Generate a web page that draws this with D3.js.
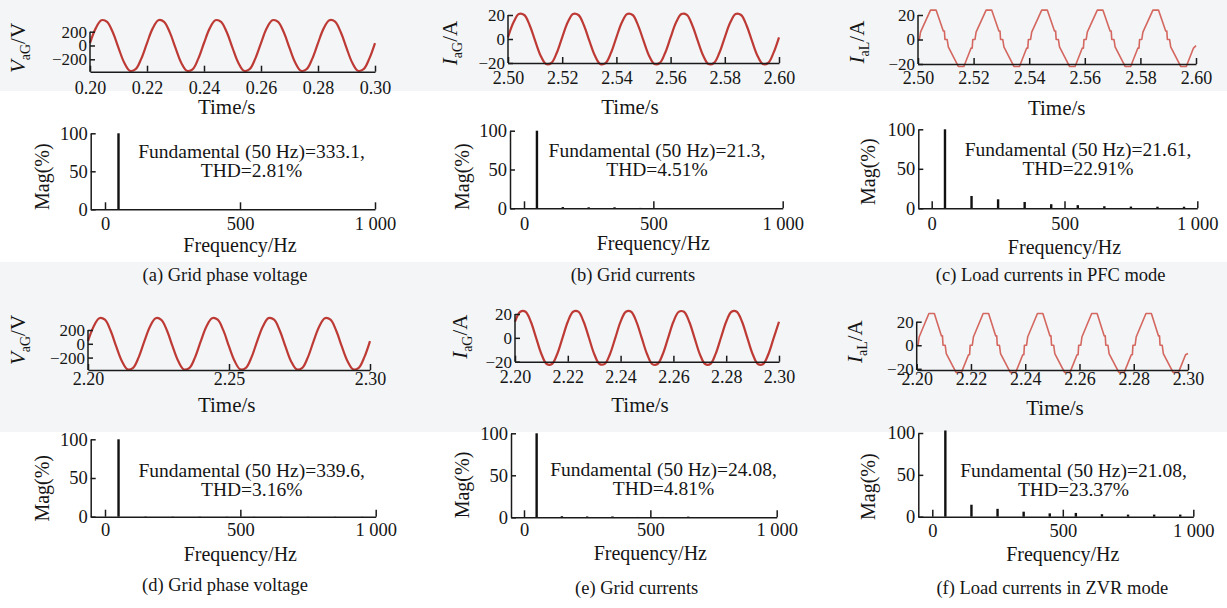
<!DOCTYPE html>
<html>
<head>
<meta charset="utf-8">
<script src="https://cdn.jsdelivr.net/npm/d3@7/dist/d3.min.js"></script>
<style>
  body { margin: 0; background: #fff; }
  svg text { fill: #151515; }
</style>
</head>
<body>
<div id="chart"></div>
<script>
// ---------------- data ----------------
var captions = ["(a) Grid phase voltage", "(b) Grid currents", "(c) Load currents in PFC mode",
                "(d) Grid phase voltage", "(e) Grid currents", "(f) Load currents in ZVR mode"];

// time window of each waveform (s)
var timeStarts = [0.20, 2.50, 2.50, 2.20, 2.20, 2.20];
var timeEnds   = [0.30, 2.60, 2.60, 2.30, 2.30, 2.30];

// axis tick labels
var timeTicksA  = [0.20, 0.22, 0.24, 0.26, 0.28, 0.30];
var timeTicksBC = [2.50, 2.52, 2.54, 2.56, 2.58, 2.60];
var timeTicksD  = [2.20, 2.25, 2.30];
var timeTicksEF = [2.20, 2.22, 2.24, 2.26, 2.28, 2.30];
var voltTicks = [-200, 0, 200];
var ampTicks  = [-20, 0, 20];
var freqTicks = [0, 500, 1000];
var magTicks  = [0, 50, 100];

// y-axis names: symbol, subscript, unit
var waveNames = [["V", "aG", "V"], ["I", "aG", "A"], ["I", "aL", "A"],
                 ["V", "aG", "V"], ["I", "aG", "A"], ["I", "aL", "A"]];

// grid waveforms, one sample every 2 ms from the window start
var gridVoltageA = [
   35, 248, 366, 344, 191,  -35, -248, -366, -344, -191,
   35, 248, 367, 343, 190,  -35, -249, -366, -345, -191,
   36, 248, 366, 344, 191,  -35, -248, -367, -344, -190,
   35, 249, 366, 344, 191,  -36, -248, -366, -344, -191,
   35, 248, 366, 345, 191,  -35, -248, -366, -343, -191,
   35
];
var gridCurrentB = [
   1.4, 13.7, 20.8, 20.0, 11.5, -1.4, -13.7, -20.8, -20.0, -11.5,
   1.4, 13.7, 20.9, 20.0, 11.5, -1.4, -13.6, -20.8, -20.1, -11.5,
   1.4, 13.8, 20.8, 20.0, 11.4, -1.4, -13.7, -20.8, -20.0, -11.5,
   1.3, 13.7, 20.8, 20.1, 11.5, -1.4, -13.7, -20.9, -20.0, -11.5,
   1.4, 13.7, 20.8, 20.0, 11.5, -1.4, -13.7, -20.8, -20.0, -11.4,
   1.4
];
var gridVoltageD = [
   39, 251, 371, 349, 193,  -39, -251, -371, -349, -193,
   39, 252, 371, 348, 193,  -39, -251, -372, -349, -193,
   38, 251, 371, 349, 194,  -39, -251, -371, -348, -193,
   39, 251, 372, 349, 193,  -38, -252, -371, -349, -193,
   39, 251, 371, 349, 193,  -39, -251, -371, -349, -194,
   39
];
var gridCurrentE = [
   13.5, 21.9, 21.9, 13.5, 0.0, -13.5, -21.9, -21.9, -13.5, 0.0,
   13.5, 21.9, 22.0, 13.5, 0.1, -13.5, -21.9, -21.8, -13.5, 0.0,
   13.6, 21.9, 21.9, 13.4, 0.0, -13.5, -22.0, -21.9, -13.5, 0.0,
   13.5, 21.8, 21.9, 13.5, 0.0, -13.6, -21.9, -21.9, -13.4, 0.1,
   13.5, 21.9, 21.9, 13.5, 0.0, -13.5, -21.9, -21.9, -13.5, 0.0,
   13.5
];

// load currents: corner points [ms from window start, A]
var loadCurrentC = [
  [0, 0], [0.5, 0], [0.9, 6], [4.5, 24], [6.5, 24], [9.1, 7], [9.5, 7], [9.7, 0],
  [10.5, 0], [10.9, -6], [14.5, -22], [16.5, -22], [19.1, -7], [19.5, -7], [19.7, 0],
  [20.5, 0], [20.9, 6], [24.5, 24], [26.5, 24], [29.1, 7], [29.5, 7], [29.7, 0],
  [30.5, 0], [30.9, -6], [34.5, -22], [36.5, -22], [39.1, -7], [39.5, -7], [39.7, 0],
  [40.5, 0], [40.9, 6], [44.5, 24], [46.5, 24], [49.1, 7], [49.5, 7], [49.7, 0],
  [50.5, 0], [50.9, -6], [54.5, -22], [56.5, -22], [59.1, -7], [59.5, -7], [59.7, 0],
  [60.5, 0], [60.9, 6], [64.5, 24], [66.5, 24], [69.1, 7], [69.5, 7], [69.7, 0],
  [70.5, 0], [70.9, -6], [74.5, -22], [76.5, -22], [79.1, -7], [79.5, -7], [79.7, 0],
  [80.5, 0], [80.9, 6], [84.5, 24], [86.5, 24], [89.1, 7], [89.5, 7], [89.7, 0],
  [90.5, 0], [90.9, -6], [94.5, -22], [96.5, -22], [99.1, -7], [100, -5]
];
var loadCurrentF = [
  [0, 0], [0.5, 0], [0.9, 7], [4.5, 27], [6.5, 27], [9.1, 8], [9.5, 8], [9.7, 0],
  [10.5, 0], [10.9, -7], [14.5, -23], [16.5, -23], [19.1, -8], [19.5, -8], [19.7, 0],
  [20.5, 0], [20.9, 7], [24.5, 27], [26.5, 27], [29.1, 8], [29.5, 8], [29.7, 0],
  [30.5, 0], [30.9, -7], [34.5, -23], [36.5, -23], [39.1, -8], [39.5, -8], [39.7, 0],
  [40.5, 0], [40.9, 7], [44.5, 27], [46.5, 27], [49.1, 8], [49.5, 8], [49.7, 0],
  [50.5, 0], [50.9, -7], [54.5, -23], [56.5, -23], [59.1, -8], [59.5, -8], [59.7, 0],
  [60.5, 0], [60.9, 7], [64.5, 27], [66.5, 27], [69.1, 8], [69.5, 8], [69.7, 0],
  [70.5, 0], [70.9, -7], [74.5, -23], [76.5, -23], [79.1, -8], [79.5, -8], [79.7, 0],
  [80.5, 0], [80.9, 7], [84.5, 27], [86.5, 27], [89.1, 8], [89.5, 8], [89.7, 0],
  [90.5, 0], [90.9, -7], [94.5, -23], [96.5, -23], [99.1, -8], [100, -7]
];

// FFT spectra: harmonic frequency (Hz) and magnitude (% of fundamental)
var harmonicHz = [50, 150, 250, 350, 450, 550, 650, 750, 850, 950];
var magA = [100, 0.4, 0.3, 0.3, 0.2, 0.2, 0.2, 0.2, 0.2, 0.2];
var magB = [100, 1.6, 1.3, 1.3, 0.5, 0.4, 0.3, 0.3, 0.3, 0.3];
var magC = [100, 15.6, 11.4, 8.0, 5.2, 4.0, 2.6, 2.2, 2.0, 2.0];
var magD = [100, 0.4, 0.3, 0.3, 0.2, 0.2, 0.2, 0.2, 0.2, 0.2];
var magE = [100, 1.3, 1.0, 1.0, 0.4, 0.4, 0.8, 0.3, 0.3, 0.3];
var magF = [103, 14.3, 9.4, 6.0, 4.0, 4.5, 3.0, 2.5, 2.5, 2.5];

var fundamentals = ["333.1", "21.3", "21.61", "339.6", "24.08", "21.08"];
var thds = ["2.81%", "4.51%", "22.91%", "3.16%", "4.81%", "23.37%"];

// ---------------- layout ----------------
var serif = "'Liberation Serif', 'Times New Roman', serif";

var waveLayout = [
  {x0: 90,    x1: 375,  yb: 71.7,  yt: 31.7,  yMin: -380, yTop: 200, pad: 9.8, titleX: 226.7, titleY: 106.7, labX: 18,    labY: 48},
  {x0: 508,   x1: 779,  yb: 63,    yt: 15,    yMin: -20,  yTop: 20,  pad: 8.5, titleX: 630,   titleY: 106.7, labX: 450,   labY: 43},
  {x0: 918,   x1: 1196, yb: 64,    yt: 15,    yMin: -20,  yTop: 20,  pad: 7.5, titleX: 1056.7, titleY: 108.3, labX: 856.7, labY: 42},
  {x0: 88,    x1: 370,  yb: 370,   yt: 330,   yMin: -380, yTop: 200, pad: 2.5, titleX: 226.7, titleY: 405,   labX: 18,    labY: 340},
  {x0: 515,   x1: 779,  yb: 361.7, yt: 314,   yMin: -20,  yTop: 20,  pad: 8.8, titleX: 640,   titleY: 405,   labX: 460,   labY: 336.7},
  {x0: 916.7, x1: 1188, yb: 370,   yt: 321.7, yMin: -21,  yTop: 20,  pad: 2.5, titleX: 1055,  titleY: 408.3, labX: 855,   labY: 341.7}
];

var specLayout = [
  {x0: 90.7,  xz: 105,   x1: 375,    yb: 209.3, yt: 133.3, cx: 251.5,  ty1: 151.5, ty2: 170.5, tlY: 223.3, fY: 245,   magX: 41.7,  magY: 176.7, capX: 225,    capY: 275},
  {x0: 510,   xz: 524,   x1: 782.7,  yb: 208.3, yt: 130.7, cx: 657,    ty1: 150,   ty2: 169.5, tlY: 223.3, fY: 243.3, magX: 461.7, magY: 176.7, capX: 633,    capY: 275},
  {x0: 918.3, xz: 931.7, x1: 1197.3, yb: 208.3, yt: 129.3, cx: 1078,   ty1: 149.5, ty2: 168.5, tlY: 223.3, fY: 246.7, magX: 868.3, magY: 171.7, capX: 1050.7, capY: 275},
  {x0: 90.7,  xz: 105,   x1: 375.7,  yb: 516.7, yt: 439.3, cx: 251.7,  ty1: 470.5, ty2: 489.5, tlY: 530,   fY: 554,   magX: 41.7,  magY: 488.3, capX: 225,    capY: 585},
  {x0: 511,   xz: 524,   x1: 776.7,  yb: 517.3, yt: 433.3, cx: 663.5,  ty1: 469,   ty2: 488,   tlY: 530,   fY: 553.3, magX: 461.7, magY: 485,   capX: 636.7,  capY: 588},
  {x0: 918.3, xz: 932.3, x1: 1193.3, yb: 516.7, yt: 433,   cx: 1073.5, ty1: 470.5, ty2: 489.5, tlY: 530.7, fY: 554,   magX: 868.3, magY: 486.7, capX: 1052.3, capY: 588}
];

var waveColor = ["#bd3a35", "#bd3a35", "#d4675f", "#bd3a35", "#bd3a35", "#d4675f"];
var waveWidth = [2.2, 2.2, 1.6, 2.2, 2.2, 1.6];

// ---------------- drawing ----------------
var svg = d3.select("#chart").append("svg")
    .attr("width", 1227)
    .attr("height", 608);

// faint scan tint behind the waveform rows
svg.append("rect").attr("x", 0).attr("y", 0).attr("width", 1227).attr("height", 91).attr("fill", "#f3f5f7");
svg.append("rect").attr("x", 0).attr("y", 262).attr("width", 1227).attr("height", 170).attr("fill", "#f3f5f7");

function minusFmt(d) { return d < 0 ? "\u2212" + Math.abs(d) : String(d); }
function freqFmt(d) { return d >= 1000 ? "1\u00a0000" : String(d); }

function styleAxis(g, size) {
    g.attr("font-family", serif).attr("font-size", size);
    g.selectAll("path, line").attr("stroke", "#1a1a1a").attr("stroke-width", 1.5);
    g.selectAll("text").attr("fill", "#151515");
}

function centredText(x, y, size, str) {
    return svg.append("text")
        .attr("x", x).attr("y", y + size * 0.34)
        .attr("text-anchor", "middle")
        .attr("font-family", serif)
        .attr("font-size", size)
        .text(str);
}

function drawWave(i, points, xTicks, yTicks) {
    var L = waveLayout[i];
    var xs = d3.scaleLinear().domain([timeStarts[i], timeEnds[i]]).range([L.x0, L.x1]);
    var ys = d3.scaleLinear().domain([L.yMin, L.yTop]).range([L.yb, L.yt]);

    var line = d3.line()
        .x(d => xs(d[0]))
        .y(d => ys(d[1]));
    if (points.curved) line.curve(d3.curveCatmullRom);

    svg.append("path")
        .datum(points.data)
        .attr("d", line)
        .attr("fill", "none")
        .attr("stroke", waveColor[i])
        .attr("stroke-width", waveWidth[i])
        .attr("stroke-linejoin", "round");

    var gx = svg.append("g")
        .attr("transform", `translate(0,${L.yb})`)
        .call(d3.axisBottom(xs).tickValues(xTicks).tickFormat(d3.format(".2f"))
              .tickSizeInner(-6).tickSizeOuter(0).tickPadding(L.pad));
    styleAxis(gx, 18);

    var gy = svg.append("g")
        .attr("transform", `translate(${L.x0},0)`)
        .call(d3.axisLeft(ys).tickValues(yTicks).tickFormat(minusFmt)
              .tickSizeInner(-5).tickSizeOuter(0).tickPadding(3));
    gy.select(".domain").attr("d", `M0,${L.yb}V${L.yt}`);
    styleAxis(gy, 17);

    centredText(L.titleX, L.titleY, 21, "Time/s");

    var name = waveNames[i];
    var lab = svg.append("text")
        .attr("transform", `translate(${L.labX + 7},${L.labY}) rotate(-90)`)
        .attr("text-anchor", "middle")
        .attr("font-family", serif)
        .attr("font-size", 21);
    lab.append("tspan").attr("font-style", "italic").text(name[0]);
    lab.append("tspan").attr("font-size", 14).attr("dy", 5).text(name[1]);
    lab.append("tspan").attr("dy", -5).text("/" + name[2]);
}

function sampled(values) {
    return {curved: true, data: values.map((v, j) => [j * 0.002, v])};
}
function corners(pts) {
    return {curved: false, data: pts.map(p => [p[0] / 1000, p[1]])};
}
function shift(obj, i) {
    obj.data.forEach(d => { d[0] = timeStarts[i] + d[0]; });
    return obj;
}

drawWave(0, shift(sampled(gridVoltageA), 0), timeTicksA, voltTicks);
drawWave(1, shift(sampled(gridCurrentB), 1), timeTicksBC, ampTicks);
drawWave(2, shift(corners(loadCurrentC), 2), timeTicksBC, ampTicks);
drawWave(3, shift(sampled(gridVoltageD), 3), timeTicksD, voltTicks);
drawWave(4, shift(sampled(gridCurrentE), 4), timeTicksEF, ampTicks);
drawWave(5, shift(corners(loadCurrentF), 5), timeTicksEF, ampTicks);

function drawSpectrum(i, mags) {
    var L = specLayout[i];
    var fMin = -1000 * (L.xz - L.x0) / (L.x1 - L.xz);
    var xs = d3.scaleLinear().domain([fMin, 1000]).range([L.x0, L.x1]);
    var ys = d3.scaleLinear().domain([0, 100]).range([L.yb, L.yt]);

    svg.append("g").selectAll("rect")
        .data(harmonicHz.map((f, j) => ({f: f, m: mags[j]})))
        .enter()
        .append("rect")
        .attr("x", d => xs(d.f) - 1.2)
        .attr("y", d => ys(d.m))
        .attr("width", 2.4)
        .attr("height", d => ys(0) - ys(d.m))
        .attr("fill", "#111");

    var gx = svg.append("g")
        .attr("transform", `translate(0,${L.yb})`)
        .call(d3.axisBottom(xs).tickValues(freqTicks).tickFormat(freqFmt)
              .tickSizeInner(-7).tickSizeOuter(0).tickPadding(L.tlY - L.yb - 6.8));
    styleAxis(gx, 18.5);

    var gy = svg.append("g")
        .attr("transform", `translate(${L.x0},0)`)
        .call(d3.axisLeft(ys).tickValues(magTicks)
              .tickSizeInner(-5).tickSizeOuter(0).tickPadding(3));
    styleAxis(gy, 18.5);

    centredText(L.cx, L.ty1, 19.5, "Fundamental (50 Hz)=" + fundamentals[i] + ",");
    centredText(L.cx, L.ty2, 19.5, "THD=" + thds[i]);
    centredText(xs(500), L.fY, 20, "Frequency/Hz");
    centredText(L.capX, L.capY, 18.5, captions[i]);

    svg.append("text")
        .attr("transform", `translate(${L.magX + 7},${L.magY}) rotate(-90)`)
        .attr("text-anchor", "middle")
        .attr("font-family", serif)
        .attr("font-size", 20)
        .text("Mag(%)");
}

drawSpectrum(0, magA);
drawSpectrum(1, magB);
drawSpectrum(2, magC);
drawSpectrum(3, magD);
drawSpectrum(4, magE);
drawSpectrum(5, magF);
</script>
</body>
</html>
